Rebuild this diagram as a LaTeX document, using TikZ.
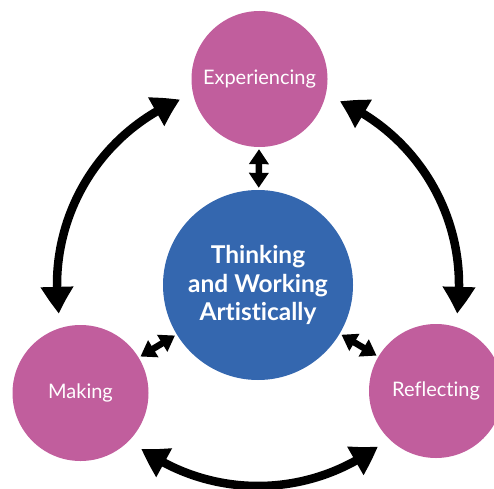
\documentclass[tikz,border=0pt]{standalone}
\usepackage{fontspec}
\setmainfont{Lato}[Ligatures=NoCommon]
\usetikzlibrary{arrows.meta,bending}
\definecolor{pinkc}{RGB}{193,94,157}
\definecolor{bluec}{RGB}{52,103,175}
\begin{document}
\begin{tikzpicture}[x=1pt,y=1pt,
  outer/.style={circle,fill=pinkc,text=white,inner sep=0pt,font=\fontsize{20}{24}\selectfont},
  inner/.style={circle,fill=bluec,text=white,minimum size=190pt,inner sep=0pt,align=center,font=\bfseries\fontsize{24.5}{28.7}\selectfont},
  bigarrow/.style={line width=8.5pt,{Triangle[width=31pt,length=27pt,bend]}-{Triangle[width=31pt,length=27pt,bend]}},
  smallarrow/.style={line width=6.5pt,{Triangle[width=19pt,length=15pt]}-{Triangle[width=19pt,length=15pt]},shorten <=2pt,shorten >=2pt}]
\useasboundingbox (0,0) rectangle (494,488);
\clip (0,0) rectangle (494,488);
\node[outer,minimum size=136pt] (T) at (259.5,409) {Experiencing};
\node[inner] (C) at (258,203) {Thinking\\and Working\\Artistically};
\node[outer,minimum size=136pt] (M) at (80.5,95) {Making};
\node[outer,minimum size=134pt] (R) at (436,97) {Reflecting};
% outer arcs around the centre
\draw[bigarrow] ([shift={(112.8:201)}]C.center) arc[start angle=112.8,end angle=188.2,radius=201];
\draw[bigarrow] ([shift={(66:201)}]C.center) arc[start angle=66,end angle=-8.2,radius=201];
\draw[bigarrow] ([shift={(234.5:201)}]C.center) arc[start angle=234.5,end angle=306.6,radius=201];
% short arrows
\draw[smallarrow] (T) -- (C);
\draw[smallarrow] (M) -- (C);
\draw[smallarrow] (C) -- (R);
\end{tikzpicture}
\end{document}
